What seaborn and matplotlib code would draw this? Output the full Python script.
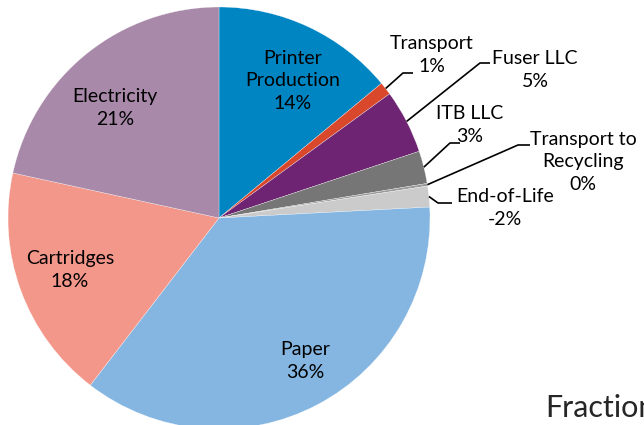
import numpy as np
import matplotlib
matplotlib.use("Agg")
import matplotlib.pyplot as plt
import seaborn as sns

# slice values (share of total, in %)
categories = ["Printer Production", "Transport", "Fuser LLC", "ITB LLC",
              "Transport to Recycling", "End-of-Life", "Paper", "Cartridges",
              "Electricity"]
values = [14.0, 1.0, 4.9, 2.5, 0.2, 1.6, 36.3, 18.0, 21.6]
labels = ["Printer\nProduction\n14%", "Transport\n1%", "Fuser LLC\n5%", "ITB LLC\n3%",
          "Transport to\nRecycling\n0%", "End-of-Life\n-2%", "Paper\n36%",
          "Cartridges\n18%", "Electricity\n21%"]
colors = ["#0085C3", "#D9482B", "#6E2472", "#767676", "#9a9a9a", "#CBCBCB",
          "#85B6E1", "#F4978B", "#A889A9"]

sns.set_theme(style="white")
plt.rcParams["font.family"] = ["Lato", "DejaVu Sans"]

W, H = 644, 425
fig = plt.figure(figsize=(W / 100, H / 100), dpi=100)
cx, cy, r = 219, 218, 211
ax = fig.add_axes([(cx - r) / W, (H - cy - r) / H, 2 * r / W, 2 * r / H])

wedges, _ = ax.pie(values, colors=sns.color_palette(colors), startangle=90,
                   counterclock=False, radius=1,
                   wedgeprops=dict(linewidth=0.2, edgecolor="white"))
ax.set_xlim(-1, 1)
ax.set_ylim(-1, 1)
ax.axis("off")


def px(x, y):
    return (x - cx) / r, (cy - y) / r


# labels inside slices
inside = {0: (293, 81), 6: (305, 361), 7: (70, 270), 8: (115, 108)}
for i, (x, y) in inside.items():
    ax.text(*px(x, y), labels[i], ha="center", va="center", fontsize=14,
            linespacing=1.42, color="black")

# outside labels with leader lines: (elbow, end of line, text centre)
outside = {
    1: ((403, 73), (413, 73), (432, 55)),
    2: ((480, 63), (490, 63), (535, 70)),
    3: ((450, 143), (460, 143), (470, 125)),
    4: ((518, 145), (530, 145), (583, 162)),
    5: ((438, 203), (452, 203), (505, 208)),
}
for i, (elbow, end, pos) in outside.items():
    w = wedges[i]
    ang = np.deg2rad((w.theta1 + w.theta2) / 2)
    sx, sy = np.cos(ang), np.sin(ang)
    ex, ey = px(*elbow)
    fx, fy = px(*end)
    ax.plot([sx, ex, fx], [sy, ey, fy], color="black", lw=1.2,
            solid_capstyle="butt", clip_on=False)
    ax.text(*px(*pos), labels[i], ha="center", va="center", fontsize=14,
            linespacing=1.42, color="black")

fig.text(545 / W, 1 - 408 / H, "Fraction", ha="left", va="center", fontsize=22)

fig.savefig("out.png", dpi=100)
